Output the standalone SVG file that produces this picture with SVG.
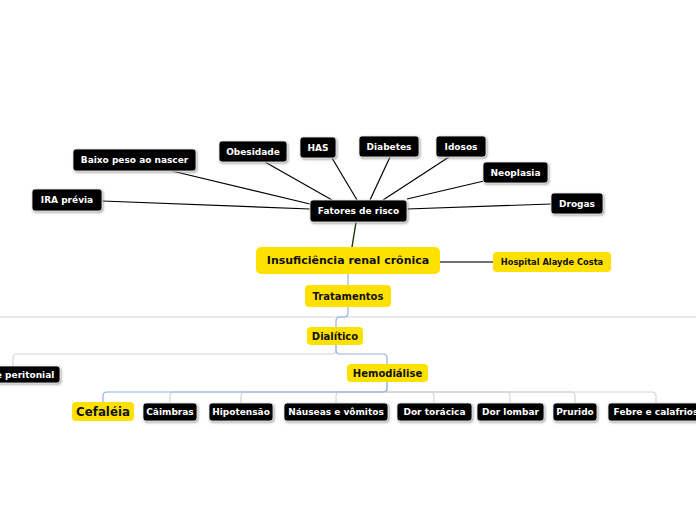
<svg xmlns="http://www.w3.org/2000/svg" width="696" height="520" viewBox="0 0 696 520">
<defs>
<filter id="sh" x="-10%" y="-20%" width="120%" height="150%">
<feDropShadow dx="1" dy="1.2" stdDeviation="0.8" flood-color="#888" flood-opacity="0.8"/>
</filter>
</defs>
<style>
text{font-family:"DejaVu Sans",Verdana,sans-serif;font-weight:bold;text-anchor:middle}
.b rect{fill:#000;stroke:#f2f2f2;stroke-width:0.8;filter:url(#sh)}
.b text{fill:#fff;font-size:9px}
.y rect{fill:#FFE100}
.y text{fill:#111;font-size:10px}
.k{stroke:#000;stroke-width:1.2;fill:none}
.g{stroke:#d4d4d4;stroke-width:1.2;fill:none}
.u{stroke:#93aee6;stroke-width:1.2;fill:none}
</style>
<rect width="696" height="520" fill="#fff"/>
<g id="connectors">
<path class="k" d="M172,171 L310,204"/>
<path class="k" d="M265,162 L332,200"/>
<path class="k" d="M332,158 L357,200"/>
<path class="k" d="M102,201 L310,209"/>
<path class="k" d="M390,157 L370,200"/>
<path class="k" d="M449,157 L383,200"/>
<path class="k" d="M484,181 L407,199"/>
<path class="k" d="M551,204 L407,209"/>
<path d="M356,222 L352,247" stroke="#1f3300" stroke-width="1.4" fill="none"/>
<path d="M440,262 H493" stroke="#444" stroke-width="1.4" fill="none"/>
<path class="g" d="M0,317 H696"/>
<path class="u" d="M348,274 V285"/>
<path class="u" d="M348,307 V313 Q348,317 344,317 H340 Q336,317 336,321 V327"/>
<path class="g" d="M336,345 V350 Q336,354 332,354 H17 Q13,354 13,358 V366"/>
<path class="u" d="M336,345 V350 Q336,354 340,354 H383 Q387,354 387,358 V364"/>
<path class="g" d="M387,382 V392 H174 Q170,392 170,396 V403"/>
<path class="g" d="M387,392 H245 Q241,392 241,396 V403"/>
<path class="g" d="M387,392 H340 Q336,392 336,396 V403"/>
<path class="g" d="M387,392 H430 Q434,392 434,396 V403"/>
<path class="g" d="M387,392 H506 Q510,392 510,396 V403"/>
<path class="g" d="M387,392 H571 Q575,392 575,396 V403"/>
<path class="g" d="M387,392 H652 Q656,392 656,396 V403"/>
<path class="u" d="M387,382 V388 Q387,392 383,392 H107 Q103,392 103,396 V402"/>
</g>
<g id="n-baixo" class="b"><rect x="73" y="149" width="123" height="22" rx="3"/><text x="134.5" y="163.2">Baixo peso ao nascer</text></g>
<g id="n-obesidade" class="b"><rect x="219" y="141" width="68" height="21" rx="3"/><text x="253" y="154.7">Obesidade</text></g>
<g id="n-has" class="b"><rect x="300" y="137" width="36" height="21" rx="3"/><text x="318" y="150.7">HAS</text></g>
<g id="n-ira" class="b"><rect x="32" y="189" width="70" height="22" rx="3"/><text x="67" y="203.2">IRA prévia</text></g>
<g id="n-fatores" class="b"><rect x="310" y="200" width="97" height="22" rx="3"/><text x="358.5" y="214.2">Fatores de risco</text></g>
<g id="n-diabetes" class="b"><rect x="359" y="136" width="60" height="21" rx="3"/><text x="389" y="149.7">Diabetes</text></g>
<g id="n-idosos" class="b"><rect x="436" y="136" width="50" height="21" rx="3"/><text x="461" y="149.7">Idosos</text></g>
<g id="n-neoplasia" class="b"><rect x="483" y="162" width="65" height="21" rx="3"/><text x="515.5" y="175.7">Neoplasia</text></g>
<g id="n-drogas" class="b"><rect x="551" y="193" width="52" height="21" rx="3"/><text x="577" y="206.7">Drogas</text></g>
<g id="n-irc" class="y"><rect x="256" y="247" width="184" height="27" rx="5"/><text x="348" y="264.3" style="font-size:11px">Insuficiência renal crônica</text></g>
<g id="n-hospital" class="y"><rect x="493" y="252" width="118" height="20" rx="4"/><text x="552" y="265" style="font-size:8.3px">Hospital Alayde Costa</text></g>
<g id="n-tratamentos" class="y"><rect x="305" y="285" width="86" height="22" rx="4"/><text x="348" y="299.5">Tratamentos</text></g>
<g id="n-dialitico" class="y"><rect x="307" y="327" width="56" height="18" rx="4"/><text x="335" y="339.5">Dialítico</text></g>
<g id="n-hemodialise" class="y"><rect x="347" y="364" width="81" height="18" rx="4"/><text x="387.5" y="376.5">Hemodiálise</text></g>
<g id="n-peritonial" class="b"><rect x="-38" y="366" width="98" height="17" rx="3"/><text x="11" y="377.7">Diálise peritonial</text></g>
<g id="n-cefaleia" class="y"><rect x="72" y="402" width="62" height="19" rx="4"/><text x="103" y="415.7" style="font-size:11.8px">Cefaléia</text></g>
<g id="n-caimbras" class="b"><rect x="143" y="403" width="54" height="18" rx="3"/><text x="170" y="415.2">Câimbras</text></g>
<g id="n-hipotensao" class="b"><rect x="209" y="403" width="64" height="18" rx="3"/><text x="241" y="415.2">Hipotensão</text></g>
<g id="n-nauseas" class="b"><rect x="284" y="403" width="104" height="18" rx="3"/><text x="336" y="415.2">Náuseas e vômitos</text></g>
<g id="n-toracica" class="b"><rect x="397" y="403" width="75" height="18" rx="3"/><text x="434.5" y="415.2">Dor torácica</text></g>
<g id="n-lombar" class="b"><rect x="477" y="403" width="67" height="18" rx="3"/><text x="510.5" y="415.2">Dor lombar</text></g>
<g id="n-prurido" class="b"><rect x="553" y="403" width="44" height="18" rx="3"/><text x="575" y="415.2">Prurido</text></g>
<g id="n-febre" class="b"><rect x="608" y="403" width="96" height="18" rx="3"/><text x="656" y="415.2">Febre e calafrios</text></g>
</svg>
